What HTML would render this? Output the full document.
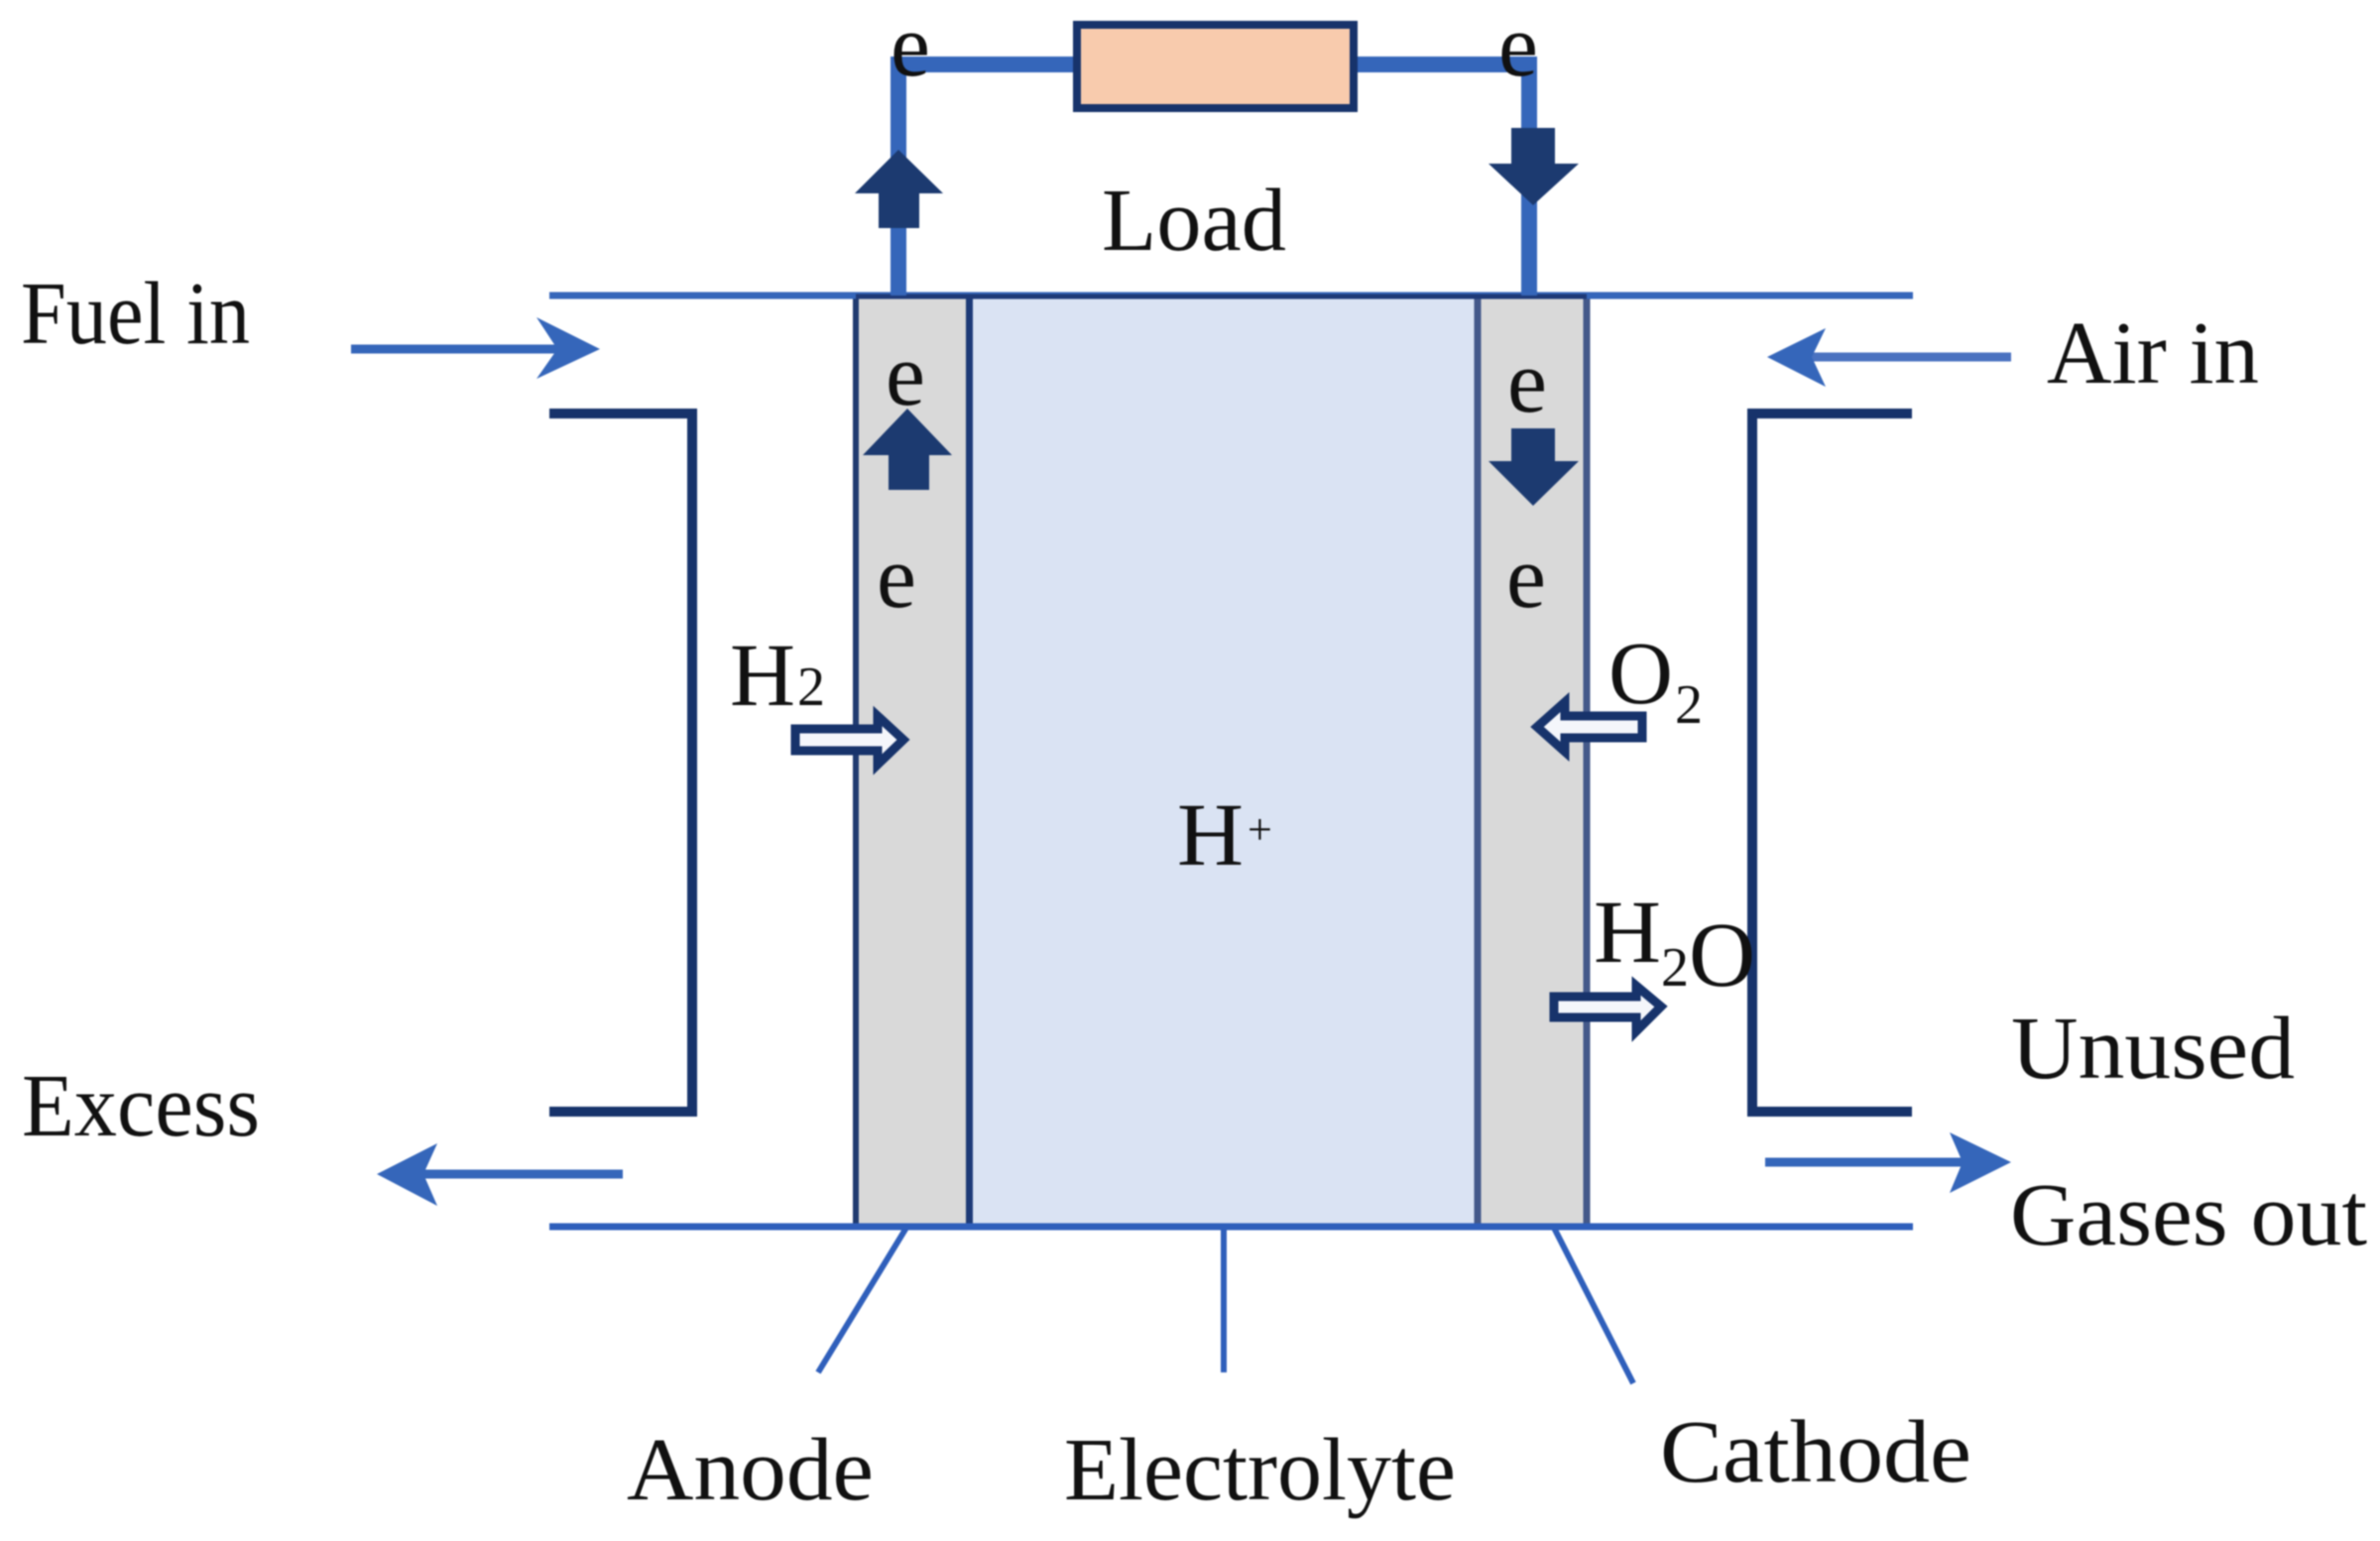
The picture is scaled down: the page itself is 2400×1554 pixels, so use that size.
<!DOCTYPE html>
<html><head><meta charset="utf-8"><style>
html,body{margin:0;padding:0;background:#fff;width:2400px;height:1554px;overflow:hidden}
svg{display:block;filter:blur(0.9px)}
text{font-family:"Liberation Serif",serif;font-size:90px;fill:#111}
</style></head><body>
<svg width="2400" height="1554" viewBox="0 0 2400 1554" xmlns="http://www.w3.org/2000/svg">
<rect x="0" y="0" width="2400" height="1554" fill="#fff"/>
<!-- cell -->
<rect x="977" y="298" width="513" height="939" fill="#dae3f3"/>
<rect x="863" y="298" width="114" height="939" fill="#d9d9d9" stroke="#1f3a70" stroke-width="6"/>
<rect x="978" y="298" width="512" height="939" fill="#dae3f3" stroke="#1c3a78" stroke-width="6"/>
<rect x="1490" y="298" width="110" height="939" fill="#d9d9d9" stroke="#44598a" stroke-width="7"/>
<!-- horizontal rails -->
<line x1="554" y1="298" x2="1929" y2="298" stroke="#3566ba" stroke-width="7"/>
<line x1="863" y1="299" x2="1600" y2="299" stroke="#1f3a78" stroke-width="5"/>
<line x1="554" y1="1237" x2="1929" y2="1237" stroke="#2f5fbb" stroke-width="7"/>
<!-- wires -->
<path d="M906 298V65H1542V298" fill="none" stroke="#3566ba" stroke-width="16"/>
<rect x="1086" y="25" width="279" height="84" fill="#f8cbad" stroke="#17336b" stroke-width="8"/>
<!-- brackets -->
<path d="M554 417H698V1121H554" fill="none" stroke="#17336b" stroke-width="10"/>
<path d="M1928 417H1767V1121H1928" fill="none" stroke="#17336b" stroke-width="10"/>
<!-- solid arrows -->
<polygon points="906,151 951,195 927,195 927,230 886,230 886,195 862,195" fill="#1c3a70"/>
<polygon points="1524,129 1568,129 1568,165 1592,165 1546,207 1501,165 1524,165" fill="#1c3a70"/>
<polygon points="915,412 960,459 937,459 937,494 896,494 896,459 870,459" fill="#1c3a70"/>
<polygon points="1524,432 1568,432 1568,465 1592,465 1546,510 1501,465 1524,465" fill="#1c3a70"/>
<!-- flow arrows -->
<line x1="354" y1="352" x2="570" y2="352" stroke="#3566ba" stroke-width="9"/>
<polygon points="605,352 541,320 562,352 541,382" fill="#3566ba"/>
<line x1="1815" y1="360" x2="2028" y2="360" stroke="#4a72c0" stroke-width="9"/>
<polygon points="1782,360 1841,331 1827,360 1841,390" fill="#3566ba"/>
<line x1="415" y1="1184" x2="628" y2="1184" stroke="#3566ba" stroke-width="9"/>
<polygon points="380,1184 441,1153 427,1184 441,1216" fill="#3566ba"/>
<line x1="1780" y1="1172" x2="1990" y2="1172" stroke="#3566ba" stroke-width="9"/>
<polygon points="2028,1172 1966,1142 1979,1172 1966,1203" fill="#3566ba"/>
<!-- pointers -->
<line x1="914" y1="1238" x2="825" y2="1384" stroke="#2f5fbb" stroke-width="6"/>
<line x1="1234" y1="1238" x2="1234" y2="1384" stroke="#2f5fbb" stroke-width="6"/>
<line x1="1567" y1="1238" x2="1647" y2="1395" stroke="#2f5fbb" stroke-width="6"/>
<!-- hollow arrows -->
<polygon points="802,735 885,735 885,722 911,746 885,771 885,757 802,757" fill="#f4f6fb" stroke="#17336b" stroke-width="9"/>
<polygon points="1656,722 1578,722 1578,708 1550,733 1578,758 1578,744 1656,744" fill="#f4f6fb" stroke="#17336b" stroke-width="9"/>
<polygon points="1567,1005 1650,1005 1650,994 1675,1015 1650,1040 1650,1026 1567,1026" fill="#f4f6fb" stroke="#17336b" stroke-width="9"/>
<!-- labels -->
<text x="21" y="346" textLength="231" lengthAdjust="spacingAndGlyphs">Fuel in</text>
<text x="2064" y="386" textLength="214" lengthAdjust="spacingAndGlyphs">Air in</text>
<text x="22" y="1145" textLength="240" lengthAdjust="spacingAndGlyphs">Excess</text>
<text x="2028" y="1087" textLength="286" lengthAdjust="spacingAndGlyphs">Unused</text>
<text x="2027" y="1255" textLength="360" lengthAdjust="spacingAndGlyphs">Gases out</text>
<text x="1111" y="252" textLength="186" lengthAdjust="spacingAndGlyphs">Load</text>
<text x="632" y="1512" textLength="249" lengthAdjust="spacingAndGlyphs">Anode</text>
<text x="1073" y="1512" textLength="395" lengthAdjust="spacingAndGlyphs">Electrolyte</text>
<text x="1674" y="1494" textLength="314" lengthAdjust="spacingAndGlyphs">Cathode</text>
<text x="898" y="76">e</text>
<text x="1511" y="76">e</text>
<text x="893" y="408">e</text>
<text x="1520" y="415">e</text>
<text x="884" y="612">e</text>
<text x="1519" y="612">e</text>
<text x="736" y="711" textLength="66" lengthAdjust="spacingAndGlyphs">H</text>
<text x="804" y="711" style="font-size:56px">2</text>
<text x="1622" y="709">O</text>
<text x="1689" y="729" style="font-size:56px">2</text>
<text x="1187" y="872" textLength="67" lengthAdjust="spacingAndGlyphs">H</text>
<text x="1258" y="851" style="font-size:44px">+</text>
<text x="1607" y="970" textLength="68" lengthAdjust="spacingAndGlyphs">H</text>
<text x="1675" y="994" style="font-size:56px">2</text>
<text x="1703" y="994" style="font-size:93px">O</text>
</svg>
</body></html>
